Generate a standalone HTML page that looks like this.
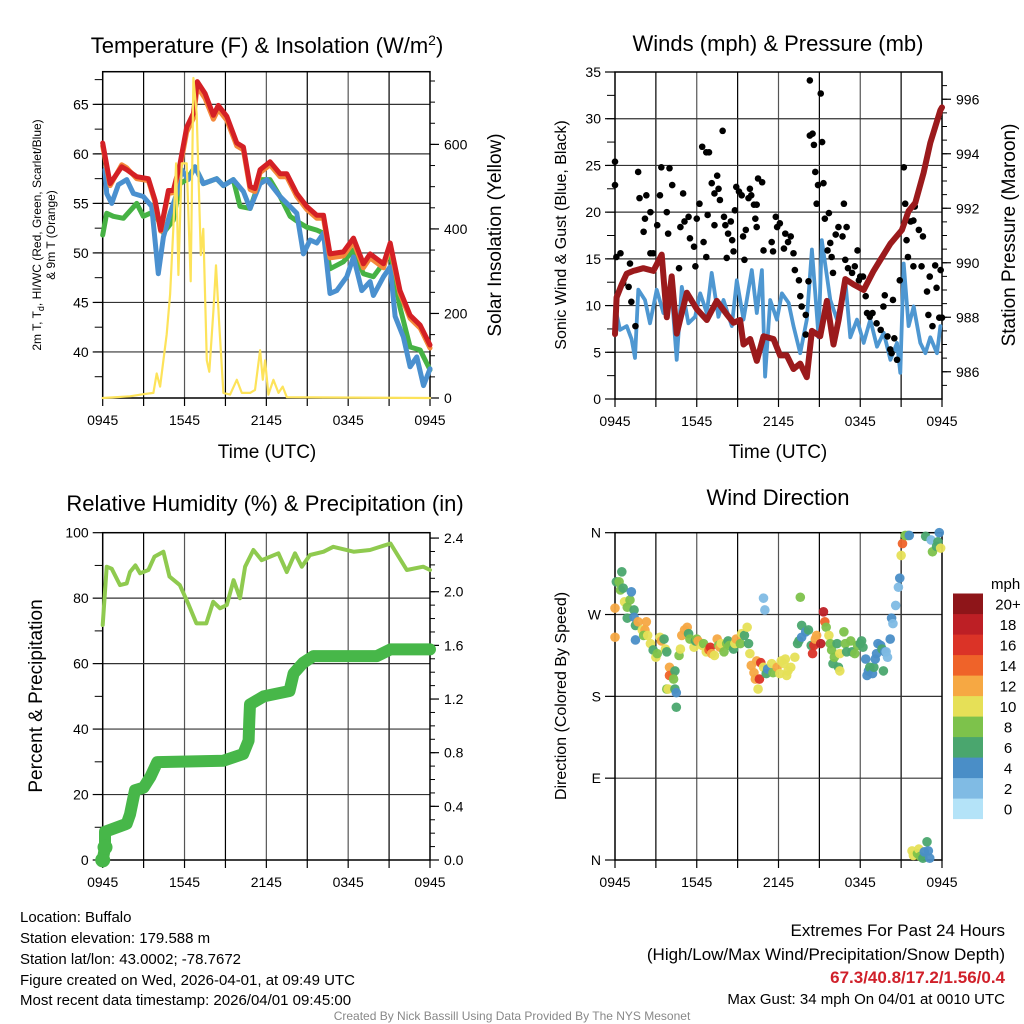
<!DOCTYPE html>
<html><head><meta charset="utf-8"><style>
html,body{margin:0;padding:0;background:#fff}
svg{display:block;font-family:"Liberation Sans",sans-serif}
</style></head><body>
<svg id="chart" width="1024" height="1024" viewBox="0 0 1024 1024" xmlns="http://www.w3.org/2000/svg">
<rect width="1024" height="1024" fill="#fff"/>
<g id="layer"></g>
<text x="267" y="53" font-size="22" text-anchor="middle">Temperature (F) &amp; Insolation (W/m<tspan dy="-8" font-size="14">2</tspan><tspan dy="8">)</tspan></text>
<text x="778" y="51" font-size="22" text-anchor="middle">Winds (mph) &amp; Pressure (mb)</text>
<text x="265" y="511" font-size="22" text-anchor="middle">Relative Humidity (%) &amp; Precipitation (in)</text>
<text x="778" y="505" font-size="22" text-anchor="middle">Wind Direction</text>
<text x="267" y="458" font-size="19" text-anchor="middle">Time (UTC)</text>
<text x="778" y="458" font-size="19" text-anchor="middle">Time (UTC)</text>
<text transform="translate(41,235) rotate(-90)" font-size="12" text-anchor="middle">2m T, T<tspan dy="3" font-size="9">d</tspan><tspan dy="-3">, HI/WC (Red, Green, Scarlet/Blue)</tspan></text>
<text transform="translate(55,235) rotate(-90)" font-size="12" text-anchor="middle">&amp; 9m T (Orange)</text>
<text transform="translate(501,235) rotate(-90)" font-size="19" text-anchor="middle">Solar Insolation (Yellow)</text>
<text transform="translate(566,235) rotate(-90)" font-size="16" text-anchor="middle">Sonic Wind &amp; Gust (Blue, Black)</text>
<text transform="translate(1015,235) rotate(-90)" font-size="19" text-anchor="middle">Station Pressure (Maroon)</text>
<text transform="translate(42,696) rotate(-90)" font-size="19" text-anchor="middle">Percent &amp; Precipitation</text>
<text transform="translate(566,696) rotate(-90)" font-size="16" text-anchor="middle">Direction (Colored By Speed)</text>
<g font-size="15">
<text x="20" y="922">Location: Buffalo</text>
<text x="20" y="943">Station elevation: 179.588 m</text>
<text x="20" y="964">Station lat/lon: 43.0002; -78.7672</text>
<text x="20" y="985">Figure created on Wed, 2026-04-01, at 09:49 UTC</text>
<text x="20" y="1005">Most recent data timestamp: 2026/04/01 09:45:00</text>
</g>
<g text-anchor="end">
<text x="1005" y="936" font-size="17">Extremes For Past 24 Hours</text>
<text x="1005" y="960" font-size="17">(High/Low/Max Wind/Precipitation/Snow Depth)</text>
<text x="1005" y="983" font-size="17" font-weight="bold" fill="#d0202a">67.3/40.8/17.2/1.56/0.4</text>
<text x="1005" y="1004" font-size="15">Max Gust: 34 mph On 04/01 at 0010 UTC</text>
</g>
<text x="512" y="1020" font-size="12" fill="#888" text-anchor="middle">Created By Nick Bassill Using Data Provided By The NYS Mesonet</text>
</svg>
<script>
const tickLabelsTime = ["0945","1545","2145","0345","0945"];
const redHours = [0,0.54,1.39,1.76,2.49,3.35,3.84,4.25,4.82,5.18,5.67,6.16,6.65,6.94,7.51,8.12,8.48,9.1,9.83,10.32,10.81,11.17,11.54,12.27,13.01,13.5,14.23,14.96,15.7,16.19,16.67,17.65,18.39,19.12,19.61,20.59,21.08,21.8,22.54,23.28,24];
const redTemp = [61.1,57.0,58.7,58.4,57.7,57.5,55.3,52.3,56.3,56.3,59.0,62.7,64.1,67.3,66.1,63.9,64.9,63.8,61.1,60.7,56.7,56.5,58.4,59.2,58.0,58.0,56.0,54.7,53.8,53.8,49.9,50.1,51.5,48.9,49.9,48.9,51.0,46.2,43.7,42.7,40.7];
const orangeTemp = [60.8,56.8,58.9,58.6,57.5,57.3,55.1,52.2,56.0,56.1,58.6,62.2,63.6,66.8,65.6,63.5,64.5,63.4,60.8,60.4,56.4,56.2,58.1,58.9,57.7,57.7,55.7,54.4,53.5,53.5,49.5,49.7,51.1,48.5,49.5,48.5,50.7,45.9,43.4,42.4,40.4];
const greenHours = [0,0.29,0.78,1.52,2.49,2.98,3.47,3.96,4.45,5.18,5.67,6.16,6.77,7.38,8.36,8.85,9.58,10.07,10.81,11.54,12.27,13.01,13.74,14.47,14.96,15.7,16.19,16.67,17.65,18.39,19.12,19.85,21.08,21.8,22.54,23.28,24];
const greenTemp = [51.8,54.0,53.7,53.5,55.0,53.7,54.0,53.7,52.0,53.3,57.0,57.4,58.7,57.0,57.5,56.8,57.4,54.7,54.5,57.4,57.4,55.7,53.7,53.0,52.6,52.3,52.0,48.4,49.1,50.3,47.9,47.6,49.9,44.5,40.5,40.2,38.2];
const blueHours = [0.17,0.29,0.66,1.15,1.76,2.25,2.98,3.59,4.08,4.45,4.94,5.43,5.79,6.28,6.77,7.38,8.36,8.85,9.58,10.32,10.81,11.54,12.03,13.01,14.23,14.72,15.21,15.7,16.19,16.67,17.16,17.9,18.39,19.0,19.61,19.85,20.59,21.08,21.44,22.05,22.54,23.03,23.52,24];
const blueTemp = [58.4,56.0,55.0,56.9,57.4,56.0,55.7,54.7,47.9,51.6,54.0,56.0,58.4,57.4,58.7,57.0,57.5,56.8,57.4,56.2,54.5,57.0,57.4,55.7,54.0,49.9,51.3,51.0,52.0,45.9,46.2,47.6,49.6,46.2,47.1,45.7,47.6,48.6,43.6,41.5,38.5,39.5,36.6,38.3];
const solarHours = [0,2.0,2.98,3.72,3.96,4.21,4.69,4.94,5.18,5.38,5.55,5.79,6.16,6.45,6.65,6.89,7.19,7.38,7.63,7.82,8.12,8.31,8.56,8.85,9.34,9.83,10.2,10.81,11.17,11.54,11.74,11.91,12.15,12.52,12.89,13.2,13.5,24];
const solarValues = [0,4,9,12,58,27,151,245,400,555,291,555,555,276,757,672,338,400,89,62,206,314,167,12,8,43,12,12,19,113,43,89,8,43,12,27,2,0];
const tempTicks = [40,45,50,55,60,65];
const solarTicks = [0,200,400,600];

const presHours = [0,0.12,0.49,0.86,1.35,2.08,2.82,3.43,3.8,4.16,4.53,5.27,6.0,6.74,7.47,8.21,8.7,9.18,9.43,9.92,10.41,10.9,11.63,12.12,12.61,13.1,13.59,14.08,14.45,15.06,15.55,16.04,16.41,16.9,17.51,18.25,18.98,19.47,20.21,21.06,21.55,22.04,22.65,23.14,23.88,24.0];
const presValues = [987.38,988.73,989.2,989.6,989.7,989.8,989.7,990.3,988.0,989.5,987.4,988.9,988.3,987.9,988.6,988.1,987.8,987.9,987.0,987.2,986.4,987.3,987.2,986.6,986.6,986.1,986.3,985.8,987.5,987.3,988.6,987.0,987.9,989.4,989.2,989.0,989.7,990.1,990.7,991.2,991.9,992.2,993.3,994.4,995.6,995.7];
const windHours = [0,0.37,0.86,1.22,1.47,1.71,2.2,2.57,3.06,3.55,4.16,4.53,4.9,5.39,5.88,6.25,6.74,7.1,7.59,7.96,8.57,8.94,9.43,10.04,10.41,10.78,11.02,11.39,11.88,12.25,12.74,13.1,13.59,14.08,14.45,14.94,15.18,15.8,16.29,16.9,17.27,17.76,18.25,18.74,19.23,19.72,20.21,20.7,20.94,21.19,21.55,21.92,22.41,22.78,23.14,23.63,23.88];
const windSpeed = [9.9,7.4,7.8,6.4,4.4,11.7,10.6,8.1,11.7,9.2,11.3,4.2,12.0,8.1,8.8,11.3,9.2,13.5,8.8,10.6,7.8,12.7,8.5,13.8,9.2,13.8,2.4,10.6,8.5,11.3,10.3,7.8,4.9,8.5,16.0,6.6,17.0,10.6,8.5,12.7,6.6,8.5,6.0,8.5,5.6,7.1,4.2,6.0,2.8,14.5,7.8,9.9,6.0,4.9,6.6,4.9,7.8];
const gustHours = [0,0,0.1,0.4,0.6,1.0,1.2,1.5,1.1,1.7,1.8,2.2,2.3,2.6,2.1,2.6,2.8,3.1,3.3,3.4,3.8,3.9,4.0,4.2,4.7,4.8,5.0,5.1,5.4,5.5,5.8,5.9,6.0,6.2,6.4,6.7,6.9,6.5,6.7,6.8,7.1,7.3,7.5,7.6,7.7,7.3,7.9,8.0,8.1,8.2,8.3,8.5,8.6,8.7,8.8,8.9,9.1,9.3,9.4,9.5,9.6,9.8,9.9,10.0,10.2,10.4,10.3,10.4,10.5,10.8,10.9,11.5,11.6,11.8,11.9,12.1,12.4,12.5,12.7,12.9,13.1,13.2,13.5,13.6,13.7,14.0,14.0,14.2,14.3,14.5,14.3,14.6,14.7,14.8,14.9,15.1,15.2,15.3,15.4,15.7,15.6,15.8,15.9,16.0,16.2,16.4,16.7,16.8,17.0,16.9,17.1,17.4,17.6,17.8,17.9,18.0,18.2,18.4,18.5,18.7,18.9,19.2,19.5,19.7,19.8,20.0,20.2,20.3,20.4,20.5,20.7,20.9,21.2,21.3,21.4,21.5,21.7,21.9,22.0,21.9,22.3,22.5,22.6,22.9,23.0,23.1,23.3,23.5,23.6,23.8,23.9,24.0];
const gustSpeed = [25.4,22.9,15.2,15.6,12.4,12.0,10.4,7.8,14.5,24.3,21.5,19.3,21.8,20.0,17.9,15.6,15.6,18.6,21.8,24.8,20.0,17.7,24.7,22.9,14.0,18.4,22.0,19.0,19.5,17.2,16.3,14.2,19.3,20.9,27.0,26.4,26.4,16.8,15.2,19.7,23.1,22.0,23.9,22.5,21.3,18.6,28.7,19.5,18.6,15.1,17.7,19.0,17.0,15.8,20.2,22.7,22.2,21.8,17.4,14.9,18.1,21.5,22.5,21.8,20.8,20.8,19.3,18.4,23.6,23.2,15.9,16.8,15.8,19.5,18.4,18.8,16.1,17.7,16.8,17.4,15.6,13.8,12.7,11.0,9.9,9.0,6.9,12.6,28.2,28.4,34.1,27.2,24.3,20.9,22.9,32.7,27.5,23.1,19.3,19.9,15.9,16.7,15.2,13.5,17.6,18.4,17.4,20.9,18.4,14.9,14.0,13.5,14.2,15.9,12.7,13.1,13.1,11.0,9.2,8.8,9.2,8.1,7.4,9.9,11.1,6.7,5.3,4.9,10.6,6.5,4.2,12.7,24.8,20.9,17.0,15.2,19.0,19.1,20.6,14.2,18.1,14.2,17.4,11.5,9.0,13.1,7.8,14.3,11.9,8.7,13.8,8.7];
const windTicks = [0,5,10,15,20,25,30,35];
const presTicks = [986,988,990,992,994,996];

const rhHours = [0,0.29,0.66,1.27,1.76,2.0,2.4,2.74,3.35,3.8,4.45,4.9,5.65,6.26,6.87,7.6,8.1,8.6,9.1,9.6,10.07,10.44,11.05,11.66,12.88,13.5,14.1,14.6,15.2,16.2,16.9,18.4,19.6,21.1,22.3,23.5,24];
const rhValues = [71.8,89.6,89,84,84.5,88,90,87.6,88.6,92.7,94.2,86.6,84,78.4,72.3,72.3,78.9,76.9,77.9,85.5,80,89.6,94.7,91.6,93.7,88,93.7,89.6,93.2,94.2,95.7,94.2,94.7,96.7,88.6,89.6,88.6];
const precipHours = [0,0.17,0.17,1.76,2.0,2.37,3.0,3.5,4.0,8.85,10.3,10.7,10.75,10.8,11.8,13.7,14.0,14.7,15.45,20.1,21.1,24];
const precipValues = [0,0.095,0.21,0.27,0.34,0.52,0.54,0.62,0.73,0.74,0.79,0.89,1.04,1.16,1.22,1.26,1.39,1.47,1.52,1.52,1.57,1.57];
const rhTicks = [0,20,40,60,80,100];
const precipTicks = [0,0.4,0.8,1.2,1.6,2.0,2.4];

const dirHours = [0,0,0.1,0.3,0.5,0.4,0.6,0.7,0.9,1.1,1.2,1.4,0.9,1.4,1.5,1.5,1.7,2.0,2.3,2.2,2.1,2.4,2.6,2.8,3.0,3.1,3.3,3.4,3.6,3.7,3.8,4.0,4.2,4.0,4.4,4.3,3.8,3.9,4.4,4.5,4.5,4.7,4.8,4.9,5.1,5.3,5.4,5.5,5.8,5.9,6.0,6.1,6.4,6.5,6.7,6.9,7.0,7.1,7.3,7.5,7.6,7.7,7.8,8.0,8.2,8.3,8.4,8.7,8.8,8.9,9.2,9.3,9.5,9.7,9.8,9.9,10.0,10.2,10.3,10.4,10.5,10.6,10.7,10.9,11.0,10.9,11.1,11.2,11.5,11.6,11.9,12.1,12.2,12.4,12.5,12.6,12.7,12.9,13.2,13.4,13.5,13.6,13.7,13.7,14.0,14.2,14.4,14.5,14.6,14.7,14.8,15.1,15.3,15.4,15.5,15.7,15.8,15.9,16.0,16.1,16.3,16.4,16.5,16.5,16.8,16.9,17.0,17.3,17.4,17.6,17.8,18.0,18.1,18.2,18.4,18.5,18.6,18.7,18.9,19.0,19.1,19.2,19.3,19.5,19.6,19.7,19.8,19.9,20.0,20.2,20.3,20.4,20.6,20.8,20.9,21.0,21.1,21.3,21.5,21.6,22.8,23.2,23.3,23.6,23.7,23.8,23.9,21.8,21.9,22.2,22.3,22.4,22.6,22.7,22.9,23.0,23.1];
const dirValues = [245,277,306,306,317,297,299,284,278,286,295,275,266,267,258,242,262,253,262,253,247,247,238,231,223,227,245,241,243,232,229,212,203,203,208,199,188,188,188,184,168,225,232,247,253,256,249,243,234,241,243,241,236,238,229,231,234,227,225,243,236,234,238,229,238,241,236,232,238,243,238,249,247,256,238,227,214,206,199,219,188,199,217,288,275,212,205,210,216,206,212,205,219,216,221,203,208,212,223,238,241,289,258,245,251,253,236,227,236,243,247,238,273,262,256,247,238,231,216,223,238,212,208,227,251,238,229,241,229,227,236,238,241,234,221,203,208,212,205,212,221,227,238,236,232,208,229,229,223,243,266,260,280,300,310,335,348,357,357,357,356,352,339,345,350,360,343,10,5,7,12,4,2,9,20,10,2];
const dirSpeed = [12,12,7,8,6,8,6,10,8,8,4,6,6,4,6,4,12,10,12,12,8,10,10,6,10,8,10,12,6,10,6,12,12,14,6,8,8,10,6,4,6,8,10,12,12,12,6,8,10,6,8,12,10,8,10,14,16,12,10,12,8,12,10,8,8,6,8,6,10,12,8,10,6,10,6,10,12,12,12,12,10,16,16,2,2,10,6,4,10,8,12,10,10,10,10,10,10,10,10,6,6,8,6,4,4,6,6,16,16,12,12,18,18,14,8,10,8,8,6,8,6,6,10,10,8,8,6,8,6,8,8,6,6,6,4,4,4,6,4,6,4,4,4,4,6,6,4,2,2,4,4,2,2,2,4,10,14,8,8,4,6,2,8,6,6,4,10,10,10,8,10,8,6,4,6,4,4];
const dirTickLabels = ["N","E","S","W","N"];
const speedBins = ["0","2","4","6","8","10","12","14","16","18","20+"];

const NS = "http://www.w3.org/2000/svg";
const layer = document.getElementById("layer");
const binColors = ["#b4e3f8","#80bbe4","#4a8ec7","#4aa66e","#7dc24b","#e6e057","#f6a843","#ef6329","#db3327","#bd1f25","#8e1519"];
function mk(tag, attrs, parent) {
  const e = document.createElementNS(NS, tag);
  for (const k in attrs) e.setAttribute(k, attrs[k]);
  (parent || layer).appendChild(e);
  return e;
}
function panel(x0,x1,y0,y1,lmin,lmax,rmin,rmax){
  return {x0,x1,y0,y1,lmin,lmax,rmin,rmax,
    sx:h=>x0+h/24*(x1-x0),
    syL:v=>y1-(v-lmin)/(lmax-lmin)*(y1-y0),
    syR:v=>y1-(v-rmin)/(rmax-rmin)*(y1-y0)};
}
const P1 = panel(102.7,430,71.7,398,35.35,68.3,0,772);
const P2 = panel(615,942,72,399,0,35,985.0,997.0);
const P3 = panel(102.7,430,532.7,860,0,100,0,2.44);
const P4 = panel(615,942,532.7,860,0,360,0,1);

function frame(p, name, leftTicks, leftMinor, leftFmt, rightTicks, rightMinor, rightFmt, gridVals){
  const g = mk("g",{});
  
  
  for (let h=3; h<24; h+=3){
    const x=p.sx(h);
    const l=mk("line",{x1:x,x2:x,y1:p.y0,y2:p.y1,stroke:(h%6===0)?"#555":"#000","stroke-width":1.2},g);
    
    
  }
  gridVals.forEach(v=>{
    const y=p.syL(v);
    const l=mk("line",{x1:p.x0,x2:p.x1,y1:y,y2:y,stroke:"#333","stroke-width":1.2},g);
    
    
  });
  mk("rect",{x:p.x0,y:p.y0,width:p.x1-p.x0,height:p.y1-p.y0,fill:"none",stroke:"#000","stroke-width":1.5},g);
  for (let h=0; h<=24; h+=3){
    const x=p.sx(h);
    mk("line",{x1:x,x2:x,y1:p.y1,y2:p.y1+8,stroke:"#000","stroke-width":1.2},g);
  }
  tickLabelsTime.forEach((t,i)=>{
    const tx=mk("text",{x:p.sx(i*6),y:p.y1+27,"font-size":14,"text-anchor":"middle"},g);
    tx.textContent=t;
    
    
  });
  leftMinor.forEach(v=>{const y=p.syL(v);mk("line",{x1:p.x0-8,x2:p.x0,y1:y,y2:y,stroke:"#000","stroke-width":1},g);});
  leftTicks.forEach((v,i)=>{
    const y=p.syL(v);
    mk("line",{x1:p.x0-10,x2:p.x0,y1:y,y2:y,stroke:"#000","stroke-width":1.2},g);
    const tx=mk("text",{x:p.x0-14,y:y+5,"font-size":14,"text-anchor":"end"},g);
    tx.textContent=leftFmt(v,i);
    
    
  });
  if (rightTicks){
    rightMinor.forEach(v=>{const y=p.syR(v);mk("line",{x1:p.x1,x2:p.x1+5,y1:y,y2:y,stroke:"#000","stroke-width":1},g);});
    rightTicks.forEach(v=>{
      const y=p.syR(v);
      mk("line",{x1:p.x1,x2:p.x1+9,y1:y,y2:y,stroke:"#000","stroke-width":1.2},g);
      const tx=mk("text",{x:p.x1+14,y:y+5,"font-size":14},g);
      tx.textContent=rightFmt(v);
      
      
    });
  }
}
function line(p, hours, vals, sy, color, w, name, cap){
  const d = hours.map((h,i)=>(i?"L":"M")+p.sx(h).toFixed(1)+","+sy(vals[i]).toFixed(1)).join("");
  const e = mk("path",{d,fill:"none",stroke:color,"stroke-width":w,"stroke-linejoin":"round","stroke-linecap":cap||"round"});
  
  
  return e;
}
function range(a,b,s){const r=[];for(let v=a;v<=b+1e-9;v+=s)r.push(+v.toFixed(3));return r;}

frame(P1,"temperature",tempTicks,range(37.5,67.5,2.5),v=>v,solarTicks,range(50,750,50),v=>v,tempTicks);
line(P1,greenHours,greenTemp,P1.syL,"#46b244",5,"dewpoint-line");
line(P1,blueHours,blueTemp,P1.syL,"#4a90cf",5,"heat-index-line");
line(P1,redHours,orangeTemp,P1.syL,"#f4883a",5,"temp-9m-line");
line(P1,redHours,redTemp,P1.syL,"#d42025",5,"temp-2m-line");
line(P1,solarHours,solarValues,P1.syR,"#fde35a",2.2,"solar-line");

frame(P2,"winds",windTicks,range(2.5,32.5,2.5),v=>v,presTicks,range(985.5,996.5,0.5),v=>v,[5,10,15,20,25,30]);
line(P2,windHours,windSpeed,P2.syL,"#4e97d1",3.8,"wind-speed-line");
gustHours.forEach((h,i)=>{
  const c=mk("circle",{cx:P2.sx(h),cy:P2.syL(gustSpeed[i]),r:3.3,fill:"#000"});
  
  
});
line(P2,presHours,presValues,P2.syR,"#9b1a1c",6,"pressure-line");

frame(P3,"humidity",rhTicks,range(10,90,20),v=>v,precipTicks,range(0.1,2.4,0.1),v=>v.toFixed(1),[20,40,60,80]);
line(P3,rhHours,rhValues,P3.syL,"#8fca4f",4,"humidity-line");
line(P3,precipHours,precipValues,P3.syR,"#47b749",12,"precipitation-line");
[[0,0],[0.17,0.095]].forEach(pt=>{
  const c=mk("circle",{cx:P3.sx(pt[0]),cy:P3.syR(pt[1]),r:7.5,fill:"#47b749"});
  
  
});

frame(P4,"direction",[0,90,180,270,360],[],(v,i)=>dirTickLabels[i],null,null,null,[90,180,270]);
dirHours.forEach((h,i)=>{
  const s = (dirSpeed[i]===undefined) ? 6 : dirSpeed[i];
  const b=Math.min(10,Math.floor(s/2));
  const c=mk("circle",{cx:P4.sx(h),cy:P4.syL(dirValues[i]),r:4.8,fill:binColors[b],"fill-opacity":0.95});
  
  
});
const cb = mk("g",{});


const mphT = mk("text",{x:991,y:589,"font-size":15},cb);
mphT.textContent="mph";
speedBins.forEach((lab,i)=>{
  const y=819-(i+1)*20.5;
  mk("rect",{x:953,y:y,width:30,height:20.6,fill:binColors[i]},cb);
  const t=mk("text",{x:1008,y:y+16,"font-size":15,"text-anchor":"middle"},cb);
  t.textContent=lab;
  
  
});
</script>
</body></html>
